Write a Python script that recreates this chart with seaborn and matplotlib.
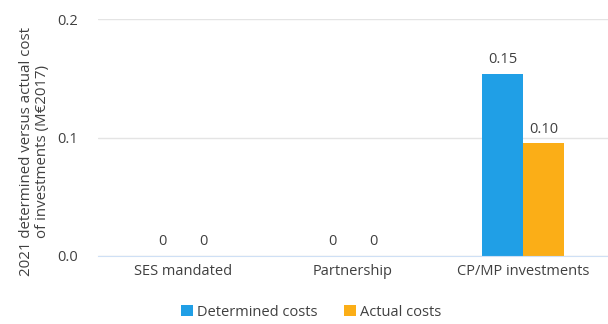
import pandas as pd
import seaborn as sns
import matplotlib.pyplot as plt

categories = ["SES mandated", "Partnership", "CP/MP investments"]
determined = [0.0, 0.0, 0.154]
actual = [0.0, 0.0, 0.095]
labels_det = ["0", "0", "0.15"]
labels_act = ["0", "0", "0.10"]
series = ["Determined costs", "Actual costs"]
colors = ["#209FE6", "#FBAE17"]

df = pd.DataFrame({
    "category": categories * 2,
    "value": determined + actual,
    "series": [series[0]] * 3 + [series[1]] * 3,
})

sns.set_style("white")
plt.rcParams["font.family"] = ["Open Sans", "DejaVu Sans"]
text_col = "#404040"

fig = plt.figure(figsize=(6.08, 3.24), dpi=100)
ax = fig.add_axes([0.161, 0.21, 0.839, 0.731])

sns.barplot(data=df, x="category", y="value", hue="series", palette=colors,
            width=0.48, gap=0, saturation=1, linewidth=0, ax=ax, legend=True)

for cont, labs in zip(ax.containers, [labels_det, labels_act]):
    ax.bar_label(cont, labels=labs, padding=5, fontsize=10.5, color=text_col)

ax.set_ylim(0, 0.2)
ax.set_yticks([0.0, 0.1, 0.2])
ax.set_yticklabels(["0.0", "0.1", "0.2"])
ax.set_xlim(-0.5, 2.5)
ax.yaxis.grid(True, color="#e4e4e4", linewidth=1)
ax.set_axisbelow(True)
for s in ["top", "right", "left"]:
    ax.spines[s].set_visible(False)
ax.spines["bottom"].set_color("#cfe0f5")
ax.tick_params(axis="both", length=0, labelsize=10.5, colors=text_col)
ax.tick_params(axis="y", pad=14)
ax.tick_params(axis="x", pad=6)
ax.set_xlabel("")
ax.set_ylabel("2021 determined versus actual cost\nof investments (M€2017)",
              fontsize=10.8, color=text_col, linespacing=1.1)
ax.yaxis.set_label_coords(-0.094, 0.44)

handles, labs = ax.get_legend_handles_labels()
ax.get_legend().remove()
fig.legend(handles, labs, loc="center", bbox_to_anchor=(0.512, 0.037), ncol=2,
           frameon=False, fontsize=10.5, handlelength=0.8, handleheight=0.8,
           handletextpad=0.3, columnspacing=1.8, labelcolor=text_col)

fig.savefig("out.png", dpi=100)
